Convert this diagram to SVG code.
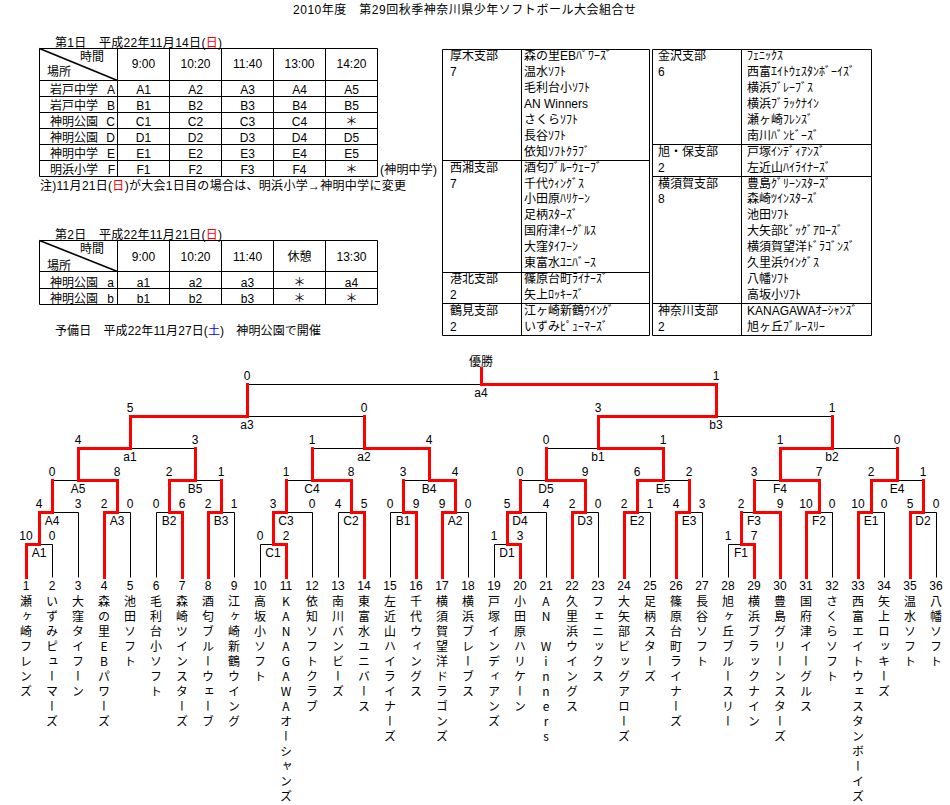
<svg xmlns="http://www.w3.org/2000/svg" width="950" height="805" viewBox="0 0 950 805">
<style>
text{font-family:"Liberation Sans","Noto Sans CJK JP",sans-serif;font-size:12px;fill:#000}
.c{text-anchor:middle}
.e{text-anchor:end}
.v{font-family:"Noto Sans CJK JP",sans-serif;writing-mode:vertical-rl;text-orientation:upright;letter-spacing:3px}
.r{fill:#f00}
.b{fill:#00f}
.ln{fill:none;stroke:#000;stroke-width:1}
.bk{fill:none;stroke:#000;stroke-width:1}
.rd{fill:none;stroke:#f00;stroke-width:3;stroke-linecap:square;stroke-linejoin:miter}
</style>
<rect width="950" height="805" fill="#fff"/>
<text id="title" x="293" y="13.5" textLength="343" lengthAdjust="spacing">2010年度　第29回秋季神奈川県少年ソフトボール大会組合せ</text>

<g id="table1">
<text x="55" y="46.5" textLength="167" lengthAdjust="spacing">第1日　平成22年11月14日(<tspan class="r">日</tspan>)</text>
<path class="ln" d="M39.5,48.5H377.5V176.5H39.5Z M39.5,80.5H377.5 M39.5,96.5H377.5 M39.5,112.5H377.5 M39.5,128.5H377.5 M39.5,144.5H377.5 M39.5,160.5H377.5 M117.5,48.5V176.5 M169.5,48.5V176.5 M221.5,48.5V176.5 M273.5,48.5V176.5 M325.5,48.5V176.5"/>
<path d="M39.5,48.5L117.5,80.5" stroke="#000" stroke-width="1.6"/>
<text x="80" y="61">時間</text>
<text x="47" y="76">場所</text>
<text class="c" x="143.5" y="68">9:00</text><text class="c" x="195.5" y="68">10:20</text><text class="c" x="247.5" y="68">11:40</text><text class="c" x="299.5" y="68">13:00</text><text class="c" x="351.5" y="68">14:20</text>
<text x="50" y="94">岩戸中学</text><text class="e" x="115" y="94">A</text>
<text class="c" x="143.5" y="94">A1</text><text class="c" x="195.5" y="94">A2</text><text class="c" x="247.5" y="94">A3</text><text class="c" x="299.5" y="94">A4</text><text class="c" x="351.5" y="94">A5</text>
<text x="50" y="110">岩戸中学</text><text class="e" x="115" y="110">B</text>
<text class="c" x="143.5" y="110">B1</text><text class="c" x="195.5" y="110">B2</text><text class="c" x="247.5" y="110">B3</text><text class="c" x="299.5" y="110">B4</text><text class="c" x="351.5" y="110">B5</text>
<text x="50" y="126">神明公園</text><text class="e" x="115" y="126">C</text>
<text class="c" x="143.5" y="126">C1</text><text class="c" x="195.5" y="126">C2</text><text class="c" x="247.5" y="126">C3</text><text class="c" x="299.5" y="126">C4</text><text class="c" x="351.5" y="126">＊</text>
<text x="50" y="142">神明公園</text><text class="e" x="115" y="142">D</text>
<text class="c" x="143.5" y="142">D1</text><text class="c" x="195.5" y="142">D2</text><text class="c" x="247.5" y="142">D3</text><text class="c" x="299.5" y="142">D4</text><text class="c" x="351.5" y="142">D5</text>
<text x="50" y="158">神明中学</text><text class="e" x="115" y="158">E</text>
<text class="c" x="143.5" y="158">E1</text><text class="c" x="195.5" y="158">E2</text><text class="c" x="247.5" y="158">E3</text><text class="c" x="299.5" y="158">E4</text><text class="c" x="351.5" y="158">E5</text>
<text x="50" y="174">明浜小学</text><text class="e" x="115" y="174">F</text>
<text class="c" x="143.5" y="174">F1</text><text class="c" x="195.5" y="174">F2</text><text class="c" x="247.5" y="174">F3</text><text class="c" x="299.5" y="174">F4</text><text class="c" x="351.5" y="174">＊</text>
<text x="380" y="174" textLength="57" lengthAdjust="spacing">(神明中学)</text>
<text x="40" y="190" textLength="366" lengthAdjust="spacing">注)11月21日(<tspan class="r">日</tspan>)が大会1日目の場合は、明浜小学→神明中学に変更</text>
</g>

<g id="table2">
<text x="55" y="238.5" textLength="167" lengthAdjust="spacing">第2日　平成22年11月21日(<tspan class="r">日</tspan>)</text>
<path class="ln" d="M39.5,240.5H377.5V304.5H39.5Z M39.5,271.5H377.5 M39.5,288.5H377.5 M117.5,240.5V304.5 M169.5,240.5V304.5 M221.5,240.5V304.5 M273.5,240.5V304.5 M325.5,240.5V304.5"/>
<path d="M39.5,240.5L117.5,271.5" stroke="#000" stroke-width="1.6"/>
<text x="80" y="252.5">時間</text>
<text x="47" y="269.5">場所</text>
<text class="c" x="143.5" y="261">9:00</text><text class="c" x="195.5" y="261">10:20</text><text class="c" x="247.5" y="261">11:40</text><text class="c" x="299.5" y="261">休憩</text><text class="c" x="351.5" y="261">13:30</text>
<text x="50" y="286.5">神明公園</text><text class="e" x="114" y="286.5">a</text>
<text class="c" x="143.5" y="286.5">a1</text><text class="c" x="195.5" y="286.5">a2</text><text class="c" x="247.5" y="286.5">a3</text><text class="c" x="299.5" y="286.5">＊</text><text class="c" x="351.5" y="286.5">a4</text>
<text x="50" y="302.5">神明公園</text><text class="e" x="114" y="302.5">b</text>
<text class="c" x="143.5" y="302.5">b1</text><text class="c" x="195.5" y="302.5">b2</text><text class="c" x="247.5" y="302.5">b3</text><text class="c" x="299.5" y="302.5">＊</text><text class="c" x="351.5" y="302.5">＊</text>
<text x="55" y="335" textLength="266" lengthAdjust="spacing">予備日　平成22年11月27日(<tspan class="b">土</tspan>)　神明公園で開催</text>
</g>

<g id="branches-left">
<path class="ln" d="M442.5,49.5H649.5V335.5H442.5Z M521.5,49.5V335.5 M442.5,160.5H649.5 M442.5,272.5H649.5 M442.5,303.5H649.5"/>
<text x="450" y="60">厚木支部</text><text x="450" y="76">7</text>
<text x="450" y="171.5">西湘支部</text><text x="450" y="187.5">7</text>
<text x="450" y="283">港北支部</text><text x="450" y="299">2</text>
<text x="450" y="315">鶴見支部</text><text x="450" y="331">2</text>
<text x="524" y="60">森の里EBﾊﾟﾜｰｽﾞ</text>
<text x="524" y="76">温水ｿﾌﾄ</text>
<text x="524" y="92">毛利台小ｿﾌﾄ</text>
<text x="524" y="107.5">AN  Winners</text>
<text x="524" y="123.5">さくらｿﾌﾄ</text>
<text x="524" y="139.5">長谷ｿﾌﾄ</text>
<text x="524" y="155.5">依知ｿﾌﾄｸﾗﾌﾞ</text>
<text x="524" y="171.5">酒匂ﾌﾞﾙｰｳｪｰﾌﾞ</text>
<text x="524" y="187.5">千代ｳｨﾝｸﾞｽ</text>
<text x="524" y="203">小田原ﾊﾘｹｰﾝ</text>
<text x="524" y="219">足柄ｽﾀｰｽﾞ</text>
<text x="524" y="235">国府津ｲｰｸﾞﾙｽ</text>
<text x="524" y="251">大窪ﾀｲﾌｰﾝ</text>
<text x="524" y="267">東富水ﾕﾆﾊﾞｰｽ</text>
<text x="524" y="283">篠原台町ﾗｲﾅｰｽﾞ</text>
<text x="524" y="299">矢上ﾛｯｷｰｽﾞ</text>
<text x="524" y="315">江ヶ崎新鶴ｳｲﾝｸﾞ</text>
<text x="524" y="331">いずみﾋﾟｭｰﾏｰｽﾞ</text>
</g>

<g id="branches-right">
<path class="ln" d="M652.5,49.5H871.5V335.5H652.5Z M741.5,49.5V335.5 M652.5,144.5H871.5 M652.5,176.5H871.5 M652.5,303.5H871.5"/>
<text x="658" y="60">金沢支部</text><text x="658" y="76">6</text>
<text x="658" y="155.5">旭・保支部</text><text x="658" y="171.5">2</text>
<text x="658" y="187.5">横須賀支部</text><text x="658" y="203">8</text>
<text x="658" y="315">神奈川支部</text><text x="658" y="331">2</text>
<text x="747" y="60">ﾌｪﾆｯｸｽ</text>
<text x="747" y="76">西富ｴｲﾄｳｪｽﾀﾝﾎﾞｰｲｽﾞ</text>
<text x="747" y="92">横浜ﾌﾞﾚｰﾌﾞｽ</text>
<text x="747" y="107.5">横浜ﾌﾞﾗｯｸﾅｲﾝ</text>
<text x="747" y="123.5">瀬ヶ崎ﾌﾚﾝｽﾞ</text>
<text x="747" y="139.5">南川ﾊﾞﾝﾋﾞｰｽﾞ</text>
<text x="747" y="155.5">戸塚ｲﾝﾃﾞｨｱﾝｽﾞ</text>
<text x="747" y="171.5">左近山ﾊｲﾗｲﾅｰｽﾞ</text>
<text x="747" y="187.5">豊島ｸﾞﾘｰﾝｽﾀｰｽﾞ</text>
<text x="747" y="203">森崎ﾂｲﾝｽﾀｰｽﾞ</text>
<text x="747" y="219">池田ｿﾌﾄ</text>
<text x="747" y="235">大矢部ﾋﾞｯｸﾞｱﾛｰｽﾞ</text>
<text x="747" y="251">横須賀望洋ﾄﾞﾗｺﾞﾝｽﾞ</text>
<text x="747" y="267">久里浜ｳｲﾝｸﾞｽ</text>
<text x="747" y="283">八幡ｿﾌﾄ</text>
<text x="747" y="299">高坂小ｿﾌﾄ</text>
<text x="747" y="315">KANAGAWAｵｰｼｬﾝｽﾞ</text>
<text x="747" y="331">旭ヶ丘ﾌﾞﾙｰｽﾘｰ</text>
</g>

<g id="connectors" transform="translate(0.5,0.5)">
<path class="bk" d="M39,544H52 M52,577V544 M52,512H78 M78,577V512 M117,512H130 M130,577V512 M78,480H52 M169,512H156 M156,577V512 M221,512H234 M234,577V512 M195,480H221 M130,448H195 M273,544H260 M260,577V544 M286,512H312 M312,577V512 M351,512H338 M338,577V512 M312,480H286 M403,512H390 M390,577V512 M455,512H468 M468,577V512 M429,480H403 M364,448H312 M247,416H364 M507,544H494 M494,577V544 M520,512H546 M546,577V512 M585,512H598 M598,577V512 M546,480H520 M637,512H650 M650,577V512 M689,512H702 M702,577V512 M663,480H689 M598,448H546 M741,544H728 M728,577V544 M754,512H741 M819,512H832 M832,577V512 M780,480H754 M871,512H884 M884,577V512 M923,512H936 M936,577V512 M897,480H923 M832,448H897 M716,416H832 M481,384H247"/>
<path class="rd" d="M26,577V544H39 M39,544V512H52 M104,577V512H117 M117,512V480H78 M52,512V480 M182,577V512H169 M208,577V512H221 M169,512V480H195 M221,512V480 M78,480V448H130 M195,480V448 M286,577V544H273 M273,544V512H286 M364,577V512H351 M351,512V480H312 M286,512V480 M416,577V512H403 M442,577V512H455 M455,512V480H429 M403,512V480 M429,480V448H364 M312,480V448 M130,448V416H247 M364,448V416 M520,577V544H507 M507,544V512H520 M572,577V512H585 M585,512V480H546 M520,512V480 M624,577V512H637 M676,577V512H689 M637,512V480H663 M689,512V480 M663,480V448H598 M546,480V448 M754,577V544H741 M780,577V512H754 M741,544V512 M806,577V512H819 M819,512V480H780 M754,512V480 M858,577V512H871 M910,577V512H923 M871,512V480H897 M923,512V480 M780,480V448H832 M897,480V448 M598,448V416H716 M832,448V416 M716,416V384H481 M247,416V384 M481,384V368"/>
</g>

<g id="final"><text class="c" x="481" y="365.5">優勝</text></g>
<g id="match-a4"><text class="c" x="247" y="380">0</text><text class="c" x="716" y="380">1</text><text class="c" x="481" y="397">a4</text></g>
<g id="match-a3"><text class="c" x="130" y="412">5</text><text class="c" x="364" y="412">0</text><text class="c" x="247" y="429">a3</text></g>
<g id="match-b3"><text class="c" x="598" y="412">3</text><text class="c" x="832" y="412">1</text><text class="c" x="716" y="429">b3</text></g>
<g id="match-a1"><text class="c" x="78" y="444">4</text><text class="c" x="195" y="444">3</text><text class="c" x="130" y="461">a1</text></g>
<g id="match-a2"><text class="c" x="312" y="444">1</text><text class="c" x="429" y="444">4</text><text class="c" x="364" y="461">a2</text></g>
<g id="match-b1"><text class="c" x="546" y="444">0</text><text class="c" x="663" y="444">1</text><text class="c" x="598" y="461">b1</text></g>
<g id="match-b2"><text class="c" x="780" y="444">1</text><text class="c" x="897" y="444">0</text><text class="c" x="832" y="461">b2</text></g>
<g id="match-A5"><text class="c" x="52" y="476">0</text><text class="c" x="117" y="476">8</text><text class="c" x="78" y="493">A5</text></g>
<g id="match-B5"><text class="c" x="169" y="476">2</text><text class="c" x="221" y="476">1</text><text class="c" x="195" y="493">B5</text></g>
<g id="match-C4"><text class="c" x="286" y="476">1</text><text class="c" x="351" y="476">8</text><text class="c" x="312" y="493">C4</text></g>
<g id="match-B4"><text class="c" x="403" y="476">3</text><text class="c" x="455" y="476">4</text><text class="c" x="429" y="493">B4</text></g>
<g id="match-D5"><text class="c" x="520" y="476">0</text><text class="c" x="585" y="476">9</text><text class="c" x="546" y="493">D5</text></g>
<g id="match-E5"><text class="c" x="637" y="476">6</text><text class="c" x="689" y="476">2</text><text class="c" x="663" y="493">E5</text></g>
<g id="match-F4"><text class="c" x="754" y="476">3</text><text class="c" x="819" y="476">7</text><text class="c" x="780" y="493">F4</text></g>
<g id="match-E4"><text class="c" x="871" y="476">2</text><text class="c" x="923" y="476">1</text><text class="c" x="897" y="493">E4</text></g>
<g id="match-A4"><text class="c" x="39" y="508">4</text><text class="c" x="78" y="508">3</text><text class="c" x="52" y="525">A4</text></g>
<g id="match-A3"><text class="c" x="104" y="508">2</text><text class="c" x="130" y="508">0</text><text class="c" x="117" y="525">A3</text></g>
<g id="match-B2"><text class="c" x="156" y="508">0</text><text class="c" x="182" y="508">6</text><text class="c" x="169" y="525">B2</text></g>
<g id="match-B3"><text class="c" x="208" y="508">2</text><text class="c" x="234" y="508">1</text><text class="c" x="221" y="525">B3</text></g>
<g id="match-C3"><text class="c" x="273" y="508">3</text><text class="c" x="312" y="508">0</text><text class="c" x="286" y="525">C3</text></g>
<g id="match-C2"><text class="c" x="338" y="508">4</text><text class="c" x="364" y="508">5</text><text class="c" x="351" y="525">C2</text></g>
<g id="match-B1"><text class="c" x="390" y="508">0</text><text class="c" x="416" y="508">9</text><text class="c" x="403" y="525">B1</text></g>
<g id="match-A2"><text class="c" x="442" y="508">9</text><text class="c" x="468" y="508">0</text><text class="c" x="455" y="525">A2</text></g>
<g id="match-D4"><text class="c" x="507" y="508">5</text><text class="c" x="546" y="508">4</text><text class="c" x="520" y="525">D4</text></g>
<g id="match-D3"><text class="c" x="572" y="508">2</text><text class="c" x="598" y="508">0</text><text class="c" x="585" y="525">D3</text></g>
<g id="match-E2"><text class="c" x="624" y="508">2</text><text class="c" x="650" y="508">1</text><text class="c" x="637" y="525">E2</text></g>
<g id="match-E3"><text class="c" x="676" y="508">4</text><text class="c" x="702" y="508">3</text><text class="c" x="689" y="525">E3</text></g>
<g id="match-F3"><text class="c" x="741" y="508">2</text><text class="c" x="780" y="508">9</text><text class="c" x="754" y="525">F3</text></g>
<g id="match-F2"><text class="c" x="806" y="508">10</text><text class="c" x="832" y="508">0</text><text class="c" x="819" y="525">F2</text></g>
<g id="match-E1"><text class="c" x="858" y="508">10</text><text class="c" x="884" y="508">0</text><text class="c" x="871" y="525">E1</text></g>
<g id="match-D2"><text class="c" x="910" y="508">5</text><text class="c" x="936" y="508">0</text><text class="c" x="923" y="525">D2</text></g>
<g id="match-A1"><text class="c" x="26" y="540">10</text><text class="c" x="52" y="540">0</text><text class="c" x="39" y="557">A1</text></g>
<g id="match-C1"><text class="c" x="260" y="540">0</text><text class="c" x="286" y="540">2</text><text class="c" x="273" y="557">C1</text></g>
<g id="match-D1"><text class="c" x="494" y="540">1</text><text class="c" x="520" y="540">3</text><text class="c" x="507" y="557">D1</text></g>
<g id="match-F1"><text class="c" x="728" y="540">1</text><text class="c" x="754" y="540">7</text><text class="c" x="741" y="557">F1</text></g>

<g id="team-1"><text class="c" x="26" y="590">1</text><text class="v" x="26" y="595">瀬ヶ崎フレンズ</text></g>
<g id="team-2"><text class="c" x="52" y="590">2</text><text class="v" x="52" y="595">いずみピューマーズ</text></g>
<g id="team-3"><text class="c" x="78" y="590">3</text><text class="v" x="78" y="595">大窪タイフーン</text></g>
<g id="team-4"><text class="c" x="104" y="590">4</text><text class="v" x="104" y="595">森の里EBパワーズ</text></g>
<g id="team-5"><text class="c" x="130" y="590">5</text><text class="v" x="130" y="595">池田ソフト</text></g>
<g id="team-6"><text class="c" x="156" y="590">6</text><text class="v" x="156" y="595">毛利台小ソフト</text></g>
<g id="team-7"><text class="c" x="182" y="590">7</text><text class="v" x="182" y="595">森崎ツインスターズ</text></g>
<g id="team-8"><text class="c" x="208" y="590">8</text><text class="v" x="208" y="595">酒匂ブルーウェーブ</text></g>
<g id="team-9"><text class="c" x="234" y="590">9</text><text class="v" x="234" y="595">江ヶ崎新鶴ウイング</text></g>
<g id="team-10"><text class="c" x="260" y="590">10</text><text class="v" x="260" y="595">高坂小ソフト</text></g>
<g id="team-11"><text class="c" x="286" y="590">11</text><text class="v" x="286" y="595">KANAGAWAオーシャンズ</text></g>
<g id="team-12"><text class="c" x="312" y="590">12</text><text class="v" x="312" y="595">依知ソフトクラブ</text></g>
<g id="team-13"><text class="c" x="338" y="590">13</text><text class="v" x="338" y="595">南川バンビーズ</text></g>
<g id="team-14"><text class="c" x="364" y="590">14</text><text class="v" x="364" y="595">東富水ユニバース</text></g>
<g id="team-15"><text class="c" x="390" y="590">15</text><text class="v" x="390" y="595">左近山ハイライナーズ</text></g>
<g id="team-16"><text class="c" x="416" y="590">16</text><text class="v" x="416" y="595">千代ウィングス</text></g>
<g id="team-17"><text class="c" x="442" y="590">17</text><text class="v" x="442" y="595">横須賀望洋ドラゴンズ</text></g>
<g id="team-18"><text class="c" x="468" y="590">18</text><text class="v" x="468" y="595">横浜ブレーブス</text></g>
<g id="team-19"><text class="c" x="494" y="590">19</text><text class="v" x="494" y="595">戸塚インディアンズ</text></g>
<g id="team-20"><text class="c" x="520" y="590">20</text><text class="v" x="520" y="595">小田原ハリケーン</text></g>
<g id="team-21"><text class="c" x="546" y="590">21</text><text class="v" x="546" y="595">AN Winners</text></g>
<g id="team-22"><text class="c" x="572" y="590">22</text><text class="v" x="572" y="595">久里浜ウイングス</text></g>
<g id="team-23"><text class="c" x="598" y="590">23</text><text class="v" x="598" y="595">フェニックス</text></g>
<g id="team-24"><text class="c" x="624" y="590">24</text><text class="v" x="624" y="595">大矢部ビッグアローズ</text></g>
<g id="team-25"><text class="c" x="650" y="590">25</text><text class="v" x="650" y="595">足柄スターズ</text></g>
<g id="team-26"><text class="c" x="676" y="590">26</text><text class="v" x="676" y="595">篠原台町ライナーズ</text></g>
<g id="team-27"><text class="c" x="702" y="590">27</text><text class="v" x="702" y="595">長谷ソフト</text></g>
<g id="team-28"><text class="c" x="728" y="590">28</text><text class="v" x="728" y="595">旭ヶ丘ブルースリー</text></g>
<g id="team-29"><text class="c" x="754" y="590">29</text><text class="v" x="754" y="595">横浜ブラックナイン</text></g>
<g id="team-30"><text class="c" x="780" y="590">30</text><text class="v" x="780" y="595">豊島グリーンスターズ</text></g>
<g id="team-31"><text class="c" x="806" y="590">31</text><text class="v" x="806" y="595">国府津イーグルス</text></g>
<g id="team-32"><text class="c" x="832" y="590">32</text><text class="v" x="832" y="595">さくらソフト</text></g>
<g id="team-33"><text class="c" x="858" y="590">33</text><text class="v" x="858" y="595">西富エイトウェスタンボーイズ</text></g>
<g id="team-34"><text class="c" x="884" y="590">34</text><text class="v" x="884" y="595">矢上ロッキーズ</text></g>
<g id="team-35"><text class="c" x="910" y="590">35</text><text class="v" x="910" y="595">温水ソフト</text></g>
<g id="team-36"><text class="c" x="936" y="590">36</text><text class="v" x="936" y="595">八幡ソフト</text></g>
</svg>
